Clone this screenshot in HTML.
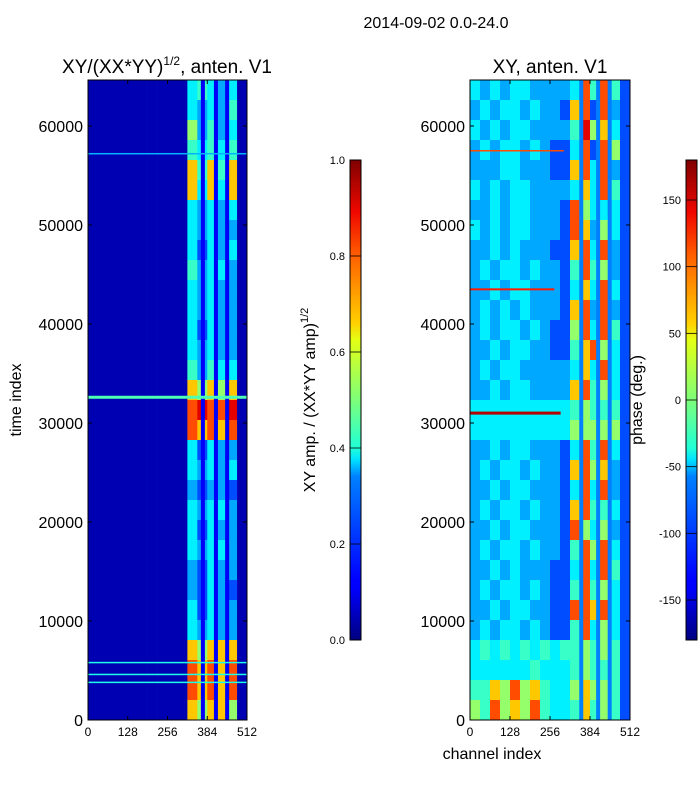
<!DOCTYPE html>
<html><head><meta charset="utf-8"><style>
body{margin:0;background:#fff;}
svg text{font-family:"Liberation Sans",sans-serif;fill:#000;}
</style></head><body>
<svg id="fig" width="700" height="800" viewBox="0 0 700 800" xmlns="http://www.w3.org/2000/svg" style="position:absolute;left:0;top:0">
<defs>
<linearGradient id="jet" x1="0" y1="1" x2="0" y2="0">
<stop offset="0" stop-color="#00007f"/><stop offset="0.11" stop-color="#0000ff"/><stop offset="0.125" stop-color="#0000ff"/>
<stop offset="0.34" stop-color="#0080ff"/><stop offset="0.375" stop-color="#00e0ff"/><stop offset="0.4" stop-color="#20ffd6"/>
<stop offset="0.5" stop-color="#7dff7a"/><stop offset="0.625" stop-color="#e4ff13"/><stop offset="0.66" stop-color="#ffd000"/>
<stop offset="0.8" stop-color="#ff6000"/><stop offset="0.89" stop-color="#f10800"/><stop offset="1" stop-color="#7f0000"/>
</linearGradient>
</defs>
<text x="436" y="28" font-size="16" text-anchor="middle">2014-09-02 0.0-24.0</text>
<g id="left"></g><g id="right"></g>
</svg>
<script>
const channelTicks=[0,128,256,384,512];
const timeTicks=[0,10000,20000,30000,40000,50000,60000];
const ampTicks=["0.0","0.2","0.4","0.6","0.8","1.0"];
const phaseTicks=[-150,-100,-50,0,50,100,150];
// digit -> value lookup (0..1)
const levels=[0.02,0.05,0.2,0.29,0.36,0.43,0.52,0.68,0.8,0.9];
// amplitude grid (rows top->bottom, 16 channel bins)
const ampRows=[
"1111111111454341","1111111111434351","1111111111635341","1111111111545451",
"1111111111757571","1111111111747471","1111111111434341","1111111111434331",
"1111111111424341","1111111111534431","1111111111434331","1111111111434331",
"1111111111424331","1111111111434331","1111111111535441","1111111111767671",
"1111111111898891","1111111111878781","1111111111424331","1111111111434341",
"1111111111323321","1111111111434431","1111111111424331","1111111111434431",
"1111111111324331","1111111111324321","1111111111424331","1111111111434331",
"1111111111767771","1111111111878781","1111111111878781","1111111111767761"];
// phase grid
const phaseRows=[
"4343443333485852","3434434332782832","4343443333596742","3434434322482862",
"3334433322784832","4343443333474852","3343443332864442","4343443332873642",
"3343433322784832","3434434332585632","3343443332474842","3434343332783832",
"3434434322684852","3343443322578642","3434433333474842","3343443333785642",
"4444444444565552","4444444444666662","3343443332485842","3434434332786732",
"3343443332484832","3434434332785542","3343443332864632","3434434332586842",
"3343433322484852","3434434322585642","3343443322887842","3434434322584642",
"4545454545565652","4444445444565552","5576867544676652","6586768544575652"];
// [time, value, thickness, startChannel, endChannel]
const ampLines=[[32600,0.45,3,0,512],[5800,0.4,1.5,0,512],[4600,0.4,1.5,0,512],[3800,0.4,1.5,0,512],[57200,0.3,1.5,0,512]];
const phaseLines=[[31000,0.95,3,0,290],[43500,0.85,2,0,270],[57500,0.8,1.5,0,300]];
// dark vertical strips in the bright band (channel)
const ampStrips=[370,412,448];
const phaseStrips=[356,410,447];

function jet(v){
  v=Math.max(0,Math.min(1,v));
  const c=x=>Math.round(255*Math.max(0,Math.min(1,x)));
  const r=1.5-Math.abs(4*v-3),g=1.5-Math.abs(4*v-2),b=1.5-Math.abs(4*v-1);
  return `rgb(${c(r)},${c(g)},${c(b)})`;
}
const NS="http://www.w3.org/2000/svg";
function el(tag,attrs,parent,txt){const e=document.createElementNS(NS,tag);for(const k in attrs)e.setAttribute(k,attrs[k]);if(txt!==undefined)e.textContent=txt;parent.appendChild(e);return e;}
const Y0=720,Y1=80,TMAX=64646;
const ys=t=>Y0-(t/TMAX)*(Y0-Y1);

function panel(g,x0,x1,rows,lines,strips,stripVal){
  const xs=c=>x0+(c/512)*(x1-x0);
  const nR=rows.length,nC=rows[0].length;
  rows.forEach((row,i)=>{
    for(let j=0;j<nC;j++){
      const tTop=TMAX*(1-i/nR),tBot=TMAX*(1-(i+1)/nR);
      const r=el('rect',{x:xs(j*512/nC),y:ys(tTop),width:xs((j+1)*512/nC)-xs(j*512/nC)+0.3,height:ys(tBot)-ys(tTop)+0.3,fill:jet(levels[+row[j]])},g);
      
      
    }
  });
  strips.forEach(c=>{
    const r=el('rect',{x:xs(c)-2,y:Y1,width:4,height:Y0-Y1,fill:jet(stripVal)},g);
    
    
  });
  lines.forEach(l=>{
    const r=el('rect',{x:xs(l[3]),y:ys(l[0])-l[2]/2,width:xs(l[4])-xs(l[3]),height:l[2],fill:jet(l[1])},g);
    
    
  });
  const f=el('rect',{x:x0,y:Y1,width:x1-x0,height:Y0-Y1,fill:'none',stroke:'#000','stroke-width':1},g);
  
  
  timeTicks.forEach(t=>{
    el('line',{x1:x0,x2:x0+4,y1:ys(t),y2:ys(t),stroke:'#000'},g);
    el('line',{x1:x1,x2:x1-4,y1:ys(t),y2:ys(t),stroke:'#000'},g);
    const tx=el('text',{x:x0-5,y:ys(t)+6,'font-size':16,'text-anchor':'end'},g,String(t));
    
    
  });
  channelTicks.forEach(c=>{
    el('line',{x1:xs(c),x2:xs(c),y1:Y0,y2:Y0-4,stroke:'#000'},g);
    el('line',{x1:xs(c),x2:xs(c),y1:Y1,y2:Y1+4,stroke:'#000'},g);
    const tx=el('text',{x:xs(c),y:Y0+16,'font-size':12,'text-anchor':'middle'},g,String(c));
    
    
  });
}
function colorbar(g,x,ticks,vals,vmin,vmax,labelX,name){
  const cy=v=>640-(v-vmin)/(vmax-vmin)*480;
  const r=el('rect',{x:x,y:160,width:11,height:480,fill:'url(#jet)',stroke:'#000','stroke-width':1},g);
  
  
  ticks.forEach((t,i)=>{
    const y=cy(vals[i]);
    el('line',{x1:x,x2:x+11,y1:y,y2:y,stroke:'#000','stroke-width':0.8},g);
    const tx=el('text',{x:labelX,y:y+4,'font-size':11,'text-anchor':'end'},g,String(t));
    
    
  });
}
const L=document.getElementById('left'),R=document.getElementById('right');
panel(L,88,247,ampRows,ampLines,ampStrips,0.12);
panel(R,470,630,phaseRows,phaseLines,phaseStrips,0.25);
colorbar(L,350,ampTicks,[0,0.2,0.4,0.6,0.8,1.0],0,1,345,'amplitude-colorbar');
colorbar(R,686,phaseTicks,phaseTicks,-180,180,681,'phase-colorbar');
</script>
<svg style="position:absolute;left:0;top:0" width="700" height="800" xmlns="http://www.w3.org/2000/svg">
<text x="167" y="73" font-size="19" text-anchor="middle" font-family="Liberation Sans">XY/(XX*YY)<tspan font-size="12" dy="-8">1/2</tspan><tspan dy="8">, anten. V1</tspan></text>
<text x="550" y="73" font-size="19" text-anchor="middle" font-family="Liberation Sans">XY, anten. V1</text>
<text transform="translate(21,400) rotate(-90)" font-size="16" text-anchor="middle" font-family="Liberation Sans">time index</text>
<text x="492" y="759" font-size="16" text-anchor="middle" font-family="Liberation Sans">channel index</text>
<text transform="translate(315,400) rotate(-90)" font-size="16" text-anchor="middle" font-family="Liberation Sans">XY amp. / (XX*YY amp)<tspan font-size="11" dy="-7">1/2</tspan></text>
<text transform="translate(642,400) rotate(-90)" font-size="16" text-anchor="middle" font-family="Liberation Sans">phase (deg.)</text>
</svg>
</body></html>
